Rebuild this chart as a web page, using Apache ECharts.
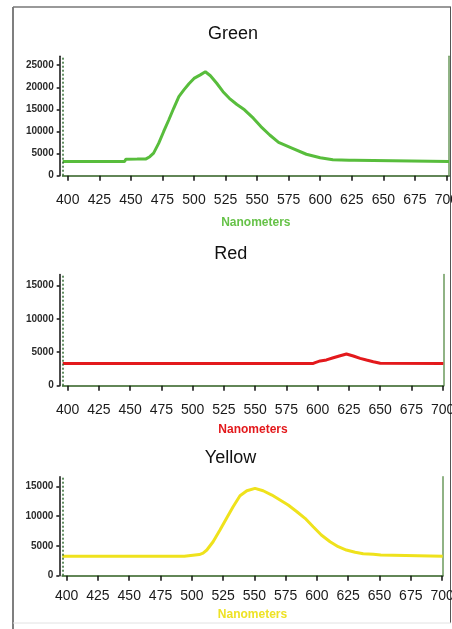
<!DOCTYPE html>
<html>
<head>
<meta charset="utf-8">
<script src="https://cdn.jsdelivr.net/npm/echarts@6/dist/echarts.min.js"></script>
<style>
html,body{margin:0;padding:0;background:#fff;}
#chart{width:452px;height:629px;}
</style>
</head>
<body>
<div id="chart"></div>
<script>
// ---- data ----
var chartTitles = ['Green', 'Red', 'Yellow'];
var xAxisName = 'Nanometers';
var xTickLabels = [400, 425, 450, 475, 500, 525, 550, 575, 600, 625, 650, 675, 700];
var yTicksGreen = [0, 5000, 10000, 15000, 20000, 25000];
var yTicksSmall = [0, 5000, 10000, 15000];

var greenNm  = [396, 445, 446, 455, 462, 465, 468, 472, 476, 480, 484, 488, 492, 496, 500, 505, 509, 513, 518, 523, 528, 534, 540, 547, 553, 560, 567, 578, 589, 600, 610, 623, 627, 628, 702];
var greenVal = [3200, 3200, 3700, 3750, 3800, 4300, 5100, 7300, 10000, 12600, 15300, 17900, 19400, 20800, 22000, 22800, 23500, 22600, 20900, 19000, 17500, 16100, 14900, 13000, 11100, 9200, 7550, 6200, 4850, 4070, 3620, 3480, 3480, 3200, 3200];

var redNm  = [396, 596, 598, 602, 607, 612.5, 618, 623, 628.5, 634, 639, 644.5, 650, 700.5];
var redVal = [3300, 3300, 3450, 3700, 3850, 4180, 4480, 4740, 4440, 4090, 3840, 3590, 3350, 3300];

var yellowNm  = [396.5, 494, 495, 506, 509, 512, 517, 522.5, 528, 533, 538.5, 544, 550.5, 557, 564, 570.5, 577, 584, 590.5, 597, 603.5, 610.5, 617, 623.5, 630.5, 637, 645, 651, 652, 700.5];
var yellowVal = [3250, 3250, 3450, 3550, 3800, 4310, 5700, 7670, 9730, 11580, 13420, 14260, 14660, 14260, 13540, 12700, 11860, 10740, 9630, 8220, 6830, 5700, 4870, 4310, 3930, 3700, 3590, 3470, 3250, 3250];

// ---- layout / style ----
function pairs(xs, ys) { return xs.map(function (x, i) { return [x, ys[i]]; }); }

var panels = [
  { nm: greenNm, val: greenVal, color: '#58bd3c', nameColor: '#66c248', xMin: 396, xMax: 702, yMax: 27000, yTicks: yTicksGreen,
    grid: { left: 62.7, top: 56.3, width: 386.3, height: 119.4 }, titleTop: 20, titleLeft: 228, labelMargin: 11, nameGap: 34.5 },
  { nm: redNm, val: redVal, color: '#e3191c', nameColor: '#e3191c', xMin: 396, xMax: 700.5, yMax: 16600, yTicks: yTicksSmall,
    grid: { left: 62.7, top: 274.6, width: 380.6, height: 111.1 }, titleTop: 240, titleLeft: 225.7, labelMargin: 11, nameGap: 31.3 },
  { nm: yellowNm, val: yellowVal, color: '#efe21c', nameColor: '#eee225', xMin: 396.5, xMax: 700.5, yMax: 16600, yTicks: yTicksSmall,
    grid: { left: 62.3, top: 476.8, width: 380.4, height: 98.9 }, titleTop: 444, titleLeft: 225.5, labelMargin: 6.5, nameGap: 26 }
];

var boxColor = '#6b9a5c';
var dashColor = '#2f6a2f';
var font = 'Liberation Sans, Arial, sans-serif';

var option = { animation: false, title: [], grid: [], xAxis: [], yAxis: [], series: [],
  graphic: [
    { type: 'line', shape: { x1: 13, y1: 7, x2: 13, y2: 629 }, style: { stroke: '#555', lineWidth: 1.5 } },
    { type: 'line', shape: { x1: 13, y1: 7, x2: 451, y2: 7 }, style: { stroke: '#777', lineWidth: 1.5 } },
    { type: 'line', shape: { x1: 450.5, y1: 7, x2: 450.5, y2: 623 }, style: { stroke: '#555', lineWidth: 1 } },
    { type: 'line', shape: { x1: 13, y1: 623, x2: 451, y2: 623 }, style: { stroke: '#e2e2e2', lineWidth: 1 } }
  ]
};

panels.forEach(function (p, i) {
  option.title.push({ text: chartTitles[i], left: p.titleLeft, top: p.titleTop, textAlign: 'center',
    textStyle: { fontFamily: font, fontSize: 18, fontWeight: 'normal', color: '#111' } });
  option.grid.push({ left: p.grid.left, top: p.grid.top, width: p.grid.width, height: p.grid.height,
    containLabel: false, outerBoundsMode: 'none' });
  // main bottom x axis
  option.xAxis.push({ gridIndex: i, type: 'value', min: p.xMin, max: p.xMax, position: 'bottom', offset: 6.5,
    axisLine: { show: true, lineStyle: { color: '#111', width: 1.5 } },
    axisTick: { show: true, customValues: xTickLabels, length: 5, lineStyle: { color: '#111', width: 1.5 } },
    axisLabel: { show: true, customValues: xTickLabels, fontFamily: font, fontSize: 14, color: '#1a1a1a', margin: p.labelMargin,
      hideOverlap: false, formatter: function (v) { return String(v); } },
    splitLine: { show: false },
    name: xAxisName, nameLocation: 'middle', nameGap: p.nameGap, nameMoveOverlap: false,
    nameTextStyle: { color: p.nameColor, fontFamily: font, fontSize: 12, fontWeight: 'bold' } });
  // top box edge
  option.xAxis.push({ gridIndex: i, type: 'value', min: p.xMin, max: p.xMax, position: 'top',
    axisLine: { show: true, lineStyle: { color: boxColor, width: 1.5 } },
    axisTick: { show: false }, axisLabel: { show: false }, splitLine: { show: false } });
  // main left y axis
  option.yAxis.push({ gridIndex: i, type: 'value', min: 0, max: p.yMax, position: 'left', offset: 3,
    axisLine: { show: true, lineStyle: { color: '#111', width: 1.5 } },
    axisTick: { show: true, customValues: p.yTicks, length: 3, lineStyle: { color: '#111', width: 1.5 } },
    axisLabel: { show: true, customValues: p.yTicks, fontFamily: font, fontSize: 10, fontWeight: 'bold', color: '#2a2a2a', margin: 6,
      formatter: function (v) { return String(v); } },
    splitLine: { show: false } });
  // right box edge
  option.yAxis.push({ gridIndex: i, type: 'value', min: 0, max: p.yMax, position: 'right',
    axisLine: { show: true, lineStyle: { color: boxColor, width: 1.5 } },
    axisTick: { show: false }, axisLabel: { show: false }, splitLine: { show: false } });

  option.series.push({ type: 'line', xAxisIndex: i * 2, yAxisIndex: i * 2, data: pairs(p.nm, p.val),
    showSymbol: false, symbol: 'none', clip: false, silent: true,
    lineStyle: { color: p.color, width: 3 },
    markLine: { silent: true, symbol: 'none', label: { show: false },
      lineStyle: { color: dashColor, type: [2, 2], width: 1.5 },
      data: [{ xAxis: p.xMin }] } });
});

var chart = echarts.init(document.getElementById('chart'), null, { renderer: 'canvas' });
chart.setOption(option);
</script>
</body>
</html>
